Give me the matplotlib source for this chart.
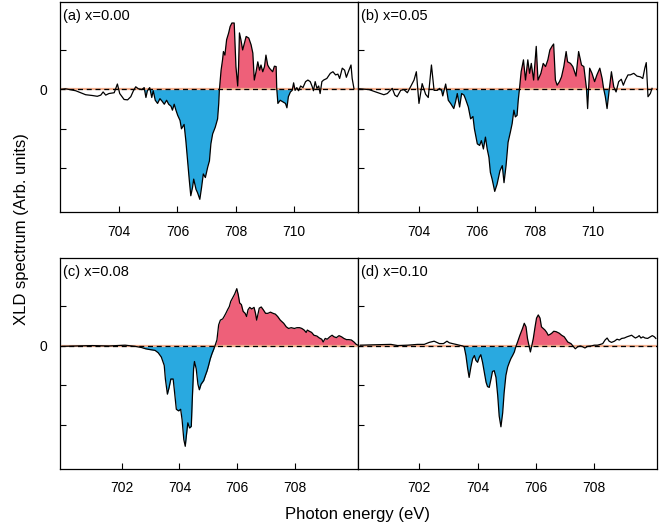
import numpy as np
import matplotlib
matplotlib.use("Agg")
import matplotlib.pyplot as plt

plt.rcParams['font.family'] = ['Liberation Sans', 'DejaVu Sans']

# ---------------- data ----------------
xa = [701.96, 702.16, 702.51, 702.85, 703.08, 703.25, 703.37, 703.45, 703.54, 703.65, 703.83, 703.94,
      704.02, 704.17, 704.29, 704.40, 704.49, 704.57, 704.66, 704.78, 704.86, 704.92, 704.97, 705.05,
      705.12, 705.17, 705.24, 705.32, 705.40, 705.47, 705.55, 705.63, 705.70, 705.78, 705.83, 705.89,
      705.95, 706.01, 706.09, 706.14, 706.23, 706.29, 706.35, 706.41, 706.46, 706.52, 706.56, 706.64,
      706.69, 706.77, 706.83, 706.89, 706.96, 707.04, 707.10, 707.15, 707.21, 707.30, 707.38, 707.42,
      707.44, 707.50, 707.55, 707.58, 707.63, 707.69, 707.76, 707.81, 707.87, 707.95, 708.01, 708.07,
      708.10, 708.13, 708.18, 708.24, 708.30, 708.36, 708.45, 708.53, 708.59, 708.64, 708.70, 708.76,
      708.82, 708.87, 708.93, 708.99, 709.04, 709.10, 709.16, 709.22, 709.27, 709.33, 709.39, 709.41,
      709.45, 709.53, 709.62, 709.71, 709.76, 709.81, 709.88, 709.94, 709.99, 710.04, 710.10, 710.16,
      710.23, 710.31, 710.40, 710.48, 710.56, 710.63, 710.67, 710.73, 710.79, 710.85, 710.90, 710.96,
      711.02, 711.13, 711.25, 711.34, 711.43, 711.51, 711.57, 711.66, 711.74, 711.80, 711.89, 711.96,
      712.00, 712.06]
ya = [-0.01, 0.01, -0.04, -0.14, -0.16, -0.18, -0.15, -0.07, -0.15, -0.11, -0.09, 0.13,
      -0.11, -0.26, -0.27, -0.19, -0.04, 0.06, 0.01, -0.01, 0.04, -0.21, -0.04, 0.04,
      -0.21, -0.04, -0.28, -0.36, -0.24, -0.30, -0.38, -0.28, -0.38, -0.43, -0.53, -0.38,
      -0.53, -0.66, -0.79, -1.00, -0.89, -1.30, -1.81, -2.31, -2.69, -2.48, -2.27, -2.53,
      -2.61, -2.78, -2.48, -2.14, -2.23, -1.97, -1.81, -1.38, -1.13, -0.96, -0.75, -0.36,
      -0.03, 0.48, 0.74, 0.95, 0.86, 1.25, 1.42, 1.58, 1.67, 1.67, 0.57, 0.08,
      0.57, 1.42, 1.25, 0.99, 1.16, 1.33, 1.29, 1.12, 0.91, 0.23, 0.44, 0.69,
      0.48, 0.61, 0.44, 0.57, 0.86, 0.61, 0.53, 0.48, 0.44, 0.58, 0.57, 0.02,
      -0.36, -0.28, -0.32, -0.36, -0.47, -0.19, -0.07, -0.03, 0.16, -0.03, 0.04, -0.04,
      0.08, 0.04, 0.19, 0.23, 0.19, 0.06, -0.04, 0.19, 0.02, 0.08, -0.11, 0.19,
      0.23, 0.27, 0.40, 0.44, 0.36, 0.38, 0.27, 0.53, 0.48, 0.30, 0.48, 0.61,
      0.27, 0.02]

xb = [701.91, 702.28, 702.51, 702.79, 702.91, 703.08, 703.17, 703.25, 703.37, 703.48, 703.60, 703.71,
      703.83, 703.91, 704.00, 704.11, 704.23, 704.32, 704.43, 704.52, 704.63, 704.71, 704.78, 704.82,
      704.92, 705.01, 705.09, 705.20, 705.26, 705.32, 705.40, 705.47, 705.55, 705.60, 705.70, 705.78,
      705.86, 705.91, 706.01, 706.09, 706.15, 706.22, 706.29, 706.35, 706.41, 706.46, 706.52, 706.61,
      706.69, 706.79, 706.87, 706.93, 707.00, 707.07, 707.15, 707.21, 707.27, 707.32, 707.38, 707.42,
      707.46, 707.52, 707.60, 707.67, 707.75, 707.81, 707.87, 707.95, 708.04, 708.10, 708.20, 708.28,
      708.36, 708.44, 708.51, 708.59, 708.64, 708.70, 708.76, 708.84, 708.91, 708.99, 709.07, 709.12,
      709.22, 709.30, 709.41, 709.50, 709.60, 709.68, 709.77, 709.81, 709.88, 709.96, 710.05, 710.13,
      710.23, 710.31, 710.36, 710.42, 710.48, 710.56, 710.63, 710.71, 710.79, 710.88, 710.97, 711.04,
      711.11, 711.20, 711.28, 711.40, 711.51, 711.63, 711.71, 711.78, 711.83, 711.89, 711.97, 712.03]
yb = [0.01, -0.01, -0.07, -0.14, -0.11, 0.02, -0.15, -0.19, -0.03, -0.01, -0.09, 0.06,
      0.23, 0.44, -0.36, 0.14, -0.13, -0.21, 0.61, -0.03, -0.03, 0.02, -0.04, -0.17,
      0.13, -0.28, -0.36, -0.49, -0.32, -0.11, -0.45, -0.11, -0.15, -0.24, -0.45, -0.75,
      -0.69, -1.00, -1.38, -1.42, -1.30, -1.51, -1.21, -1.51, -1.72, -2.10, -2.27, -2.58,
      -2.40, -2.06, -1.93, -2.36, -1.93, -1.34, -1.08, -0.87, -0.53, -0.70, -0.66, -0.28,
      -0.01, 0.44, 0.74, 0.23, 0.74, 0.40, 0.65, 0.23, 1.08, 0.23, 0.40, 0.65,
      0.57, 0.74, 0.99, 1.09, 1.14, 0.23, 0.10, 0.19, 0.31, 0.57, 0.95, 0.69,
      0.65, 0.57, 0.33, 0.95, 0.61, 0.57, 0.02, -0.49, 0.53, 0.40, 0.19, 0.36,
      0.53, 0.27, 0.02, -0.19, -0.49, 0.02, 0.44, 0.06, -0.07, 0.19, 0.25, 0.10,
      0.23, 0.36, 0.36, 0.40, 0.33, 0.31, 0.27, 0.53, 0.67, -0.19, -0.11, 0.02]

xc = [699.93, 700.39, 700.97, 701.54, 702.11, 702.46, 702.69, 702.82, 702.97, 703.15, 703.26, 703.37,
      703.47, 703.51, 703.58, 703.64, 703.70, 703.78, 703.83, 703.89, 703.97, 704.04, 704.09, 704.15,
      704.20, 704.25, 704.29, 704.35, 704.41, 704.44, 704.49, 704.52, 704.58, 704.64, 704.69, 704.75,
      704.84, 704.90, 704.96, 705.01, 705.07, 705.13, 705.19, 705.24, 705.30, 705.36, 705.42, 705.50,
      705.55, 705.61, 705.67, 705.73, 705.78, 705.84, 705.92, 705.99, 706.04, 706.09, 706.15, 706.21,
      706.28, 706.33, 706.38, 706.44, 706.51, 706.59, 706.64, 706.68, 706.72, 706.77, 706.84, 706.91,
      706.99, 707.07, 707.16, 707.25, 707.33, 707.41, 707.50, 707.62, 707.71, 707.79, 707.88, 707.99,
      708.08, 708.17, 708.25, 708.33, 708.40, 708.44, 708.51, 708.59, 708.67, 708.77, 708.86, 708.94,
      708.99, 709.06, 709.13, 709.22, 709.30, 709.37, 709.45, 709.54, 709.63, 709.71, 709.80, 709.88,
      709.97, 710.06, 710.14, 710.20]
yc = [-0.02, -0.01, 0.00, -0.01, 0.01, -0.02, -0.05, -0.08, -0.10, -0.12, -0.18, -0.29,
      -0.50, -0.84, -1.22, -1.05, -0.84, -0.84, -1.18, -1.60, -1.64, -1.60, -1.86, -2.36,
      -2.53, -2.19, -1.94, -2.07, -2.03, -1.43, -0.58, -0.40, -0.58, -0.97, -1.11, -0.97,
      -0.88, -0.75, -0.63, -0.50, -0.33, -0.20, -0.09, 0.01, 0.14, 0.52, 0.64, 0.67,
      0.73, 0.81, 0.90, 0.98, 1.11, 1.19, 1.30, 1.43, 1.28, 1.07, 1.03, 0.86,
      0.81, 0.73, 0.90, 0.96, 0.92, 0.96, 0.81, 0.64, 0.77, 0.94, 0.97, 0.90,
      0.81, 0.81, 0.84, 0.81, 0.79, 0.73, 0.64, 0.56, 0.47, 0.43, 0.45, 0.43,
      0.45, 0.45, 0.43, 0.39, 0.33, 0.39, 0.36, 0.33, 0.26, 0.24, 0.19, 0.16,
      0.09, 0.18, 0.16, 0.22, 0.26, 0.22, 0.20, 0.25, 0.22, 0.18, 0.15, 0.15,
      0.14, 0.09, 0.03, 0.01]

xd = [699.98, 700.46, 701.03, 701.26, 701.60, 701.94, 702.17, 702.34, 702.51, 702.69, 702.83, 702.95,
      703.03, 703.14, 703.26, 703.37, 703.49, 703.54, 703.60, 703.66, 703.71, 703.77, 703.83, 703.89,
      703.94, 704.00, 704.06, 704.11, 704.17, 704.23, 704.29, 704.34, 704.40, 704.46, 704.51, 704.57,
      704.63, 704.69, 704.74, 704.80, 704.86, 704.91, 704.97, 705.03, 705.09, 705.14, 705.20, 705.26,
      705.31, 705.37, 705.45, 705.54, 705.60, 705.66, 705.71, 705.77, 705.81, 705.85, 705.91, 705.97,
      706.02, 706.08, 706.14, 706.19, 706.25, 706.31, 706.37, 706.42, 706.48, 706.54, 706.61, 706.69,
      706.80, 706.88, 706.97, 707.09, 707.20, 707.29, 707.35, 707.43, 707.52, 707.60, 707.68, 707.77,
      707.89, 708.00, 708.11, 708.21, 708.29, 708.37, 708.44, 708.51, 708.59, 708.69, 708.78, 708.86,
      708.94, 709.03, 709.12, 709.20, 709.28, 709.35, 709.41, 709.49, 709.54, 709.60, 709.67, 709.74,
      709.83, 709.92, 709.99, 710.06, 710.11]
yd = [0.01, 0.02, 0.03, 0.00, 0.01, 0.03, 0.03, 0.08, 0.11, 0.05, 0.05, 0.11,
      0.07, 0.05, 0.03, 0.01, -0.01, -0.03, -0.25, -0.58, -0.80, -0.54, -0.33, -0.25,
      -0.37, -0.42, -0.29, -0.23, -0.42, -0.67, -0.92, -1.03, -1.05, -0.84, -0.65, -0.63,
      -0.80, -1.26, -1.77, -2.04, -1.69, -1.18, -0.75, -0.54, -0.42, -0.33, -0.25, -0.16,
      -0.03, 0.09, 0.26, 0.43, 0.56, 0.47, 0.18, -0.03, -0.16, -0.03, 0.18, 0.47,
      0.69, 0.77, 0.69, 0.47, 0.43, 0.39, 0.33, 0.26, 0.28, 0.31, 0.36, 0.35,
      0.31, 0.26, 0.22, 0.09, 0.05, -0.03, -0.08, -0.03, -0.01, -0.03, -0.06, -0.02,
      -0.01, 0.01, 0.01, 0.03, 0.05, 0.14, 0.19, 0.11, 0.08, 0.11, 0.16, 0.14,
      0.18, 0.19, 0.22, 0.24, 0.26, 0.22, 0.19, 0.22, 0.25, 0.19, 0.22, 0.19,
      0.18, 0.22, 0.25, 0.22, 0.18]

labels = ["(a) x=0.00", "(b) x=0.05", "(c) x=0.08", "(d) x=0.10"]
fill_ranges = [(704.55, 710.0), (704.5, 710.75), (702.8, 710.3), (703.5, 707.25)]
top_ticks = [704, 706, 708, 710]
bottom_ticks = [702, 704, 706, 708]

BLUE = "#29a9e0"
PINK = "#ee6079"

fig = plt.figure(figsize=(6.69, 5.31), dpi=100)
W, H = 669, 531

def add_ax(x0, x1, y0, y1):
    return fig.add_axes([x0 / W, 1 - y1 / H, (x1 - x0) / W, (y1 - y0) / H])

axes = [add_ax(60, 358, 2, 212), add_ax(358, 657, 2, 212),
        add_ax(60, 358, 258, 469), add_ax(358, 657, 258, 469)]
datas = [(xa, ya), (xb, yb), (xc, yc), (xd, yd)]
xlims = [(701.97, 712.2), (701.9, 712.2), (699.85, 710.2), (699.9, 710.15)]

for i, ax in enumerate(axes):
    x = np.array(datas[i][0]); y = np.array(datas[i][1])
    lo, hi = fill_ranges[i]
    rng = (x >= lo) & (x <= hi)
    ax.fill_between(x, y, 0, where=rng & (y <= 0), interpolate=True, color=BLUE, lw=0)
    ax.fill_between(x, y, 0, where=rng & (y >= 0), interpolate=True, color=PINK, lw=0)
    ax.axhline(0, color="#f3b08f", lw=1.6, zorder=2)
    ax.axhline(0, color="black", lw=0.9, ls=(0, (4, 3)), zorder=3)
    ax.plot(x, y, color="black", lw=0.9, zorder=4)
    ax.set_xlim(*xlims[i])
    ax.set_ylim(-3.1, 2.2)
    ax.set_yticks([-2, -1, 0, 1])
    ax.set_xticks(top_ticks if i < 2 else bottom_ticks)
    ax.tick_params(direction="in", length=4, width=0.8, labelsize=10, pad=9)
    if i in (0, 2):
        ax.set_yticklabels(["", "", "0", ""])
    else:
        ax.set_yticklabels([])
    for s in ax.spines.values():
        s.set_linewidth(0.9)
    ax.text(0.01, 0.965, labels[i], transform=ax.transAxes, ha="left", va="top", fontsize=10.5)

fig.text(22 / W, 1 - 229 / H, "XLD spectrum (Arb. units)", rotation=90, ha="center", va="center", fontsize=12)
fig.text(358 / W, 1 - 514 / H, "Photon energy (eV)", ha="center", va="center", fontsize=12)

fig.savefig("out.png", dpi=100)
